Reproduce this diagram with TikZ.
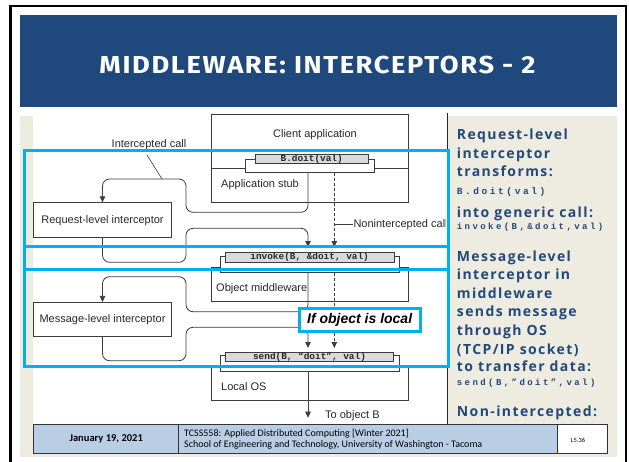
\documentclass[tikz,border=0pt]{standalone}
\usepackage{fontspec}
\usepackage{graphicx}
\usetikzlibrary{arrows.meta}
\setmainfont{Liberation Sans}
\newfontfamily\codefont{Liberation Mono}
\newfontfamily\titlefam{Fira Sans}[LetterSpace=6]
\newfontfamily\panelfam{Open Sans}[LetterSpace=10]
\newfontfamily\panelcodefam{Liberation Mono}[LetterSpace=27]
\newfontfamily\footfam{Carlito}
\definecolor{titleblue}{RGB}{31,73,125}
\definecolor{panelbg}{RGB}{238,236,225}
\definecolor{hlcyan}{RGB}{0,176,240}
\definecolor{footblue}{RGB}{185,205,229}
\definecolor{diagline}{RGB}{60,60,60}
\definecolor{diagtext}{RGB}{40,40,40}
\definecolor{plategray}{RGB}{218,218,218}
\definecolor{paneltext}{RGB}{35,72,122}
\tikzset{
  boxs/.style={draw=diagline, line width=0.8pt, fill=white, inner sep=0pt},
  plate/.style={draw=diagline, line width=0.8pt, fill=white, inner sep=0pt},
  platetop/.style={draw=diagline, line width=0.8pt, fill=plategray, inner sep=0pt,
     font=\codefont\bfseries\fontsize{9.4}{10}\selectfont, text=diagtext},
  lbl/.style={inner sep=0pt, font=\fontsize{11}{13}\selectfont, text=diagtext},
  wire/.style={draw=diagline, line width=0.8pt, rounded corners=7pt},
  arr/.style={-{Triangle[length=6pt,width=5.5pt]}},
  hl/.style={draw=hlcyan, line width=3pt},
  ptxt/.style={anchor=base west, inner sep=0pt, text=paneltext,
     font=\panelfam\bfseries\fontsize{14}{16}\selectfont},
  pcode/.style={anchor=base west, inner sep=0pt, text=paneltext,
     font=\panelcodefam\bfseries\fontsize{9.5}{11}\selectfont},
  foot/.style={draw=black!80, line width=0.8pt, inner sep=0pt, anchor=north west},
}
\begin{document}
\begin{tikzpicture}[x=1pt,y=-1pt]
\useasboundingbox (0,0) rectangle (629,461);
\fill[white] (0,0) rectangle (629,461);
% frame
\draw[line width=2.5pt, black] (10.5,475) -- (10.5,6.2) -- (625.8,6.2) -- (625.8,475);
% title bar
\fill[titleblue] (20,15) rectangle (617.3,106.7);
\node[inner sep=0pt, text=white] (title) at (317.5,65.4)
  {\resizebox{436pt}{17.4pt}{\titlefam\bfseries MIDDLEWARE: INTERCEPTORS - 2}};
% content background
\fill[panelbg] (20,116) rectangle (617.3,457.3);
\fill[white] (33.3,113) rectangle (447.3,424.3);

% ---------- diagram ----------
\node[boxs, minimum width=197pt, minimum height=88pt] (client) at (309.5,158) {};
\draw[diagline, line width=0.8pt] (211,168.3) -- (408,168.3);
\node[lbl] (clientlbl) at (315,135) {Client application};
\node[lbl, anchor=west] (stublbl) at (221,184.3) {Application stub};

\node[boxs, minimum width=197pt, minimum height=34pt] (objmw) at (309.5,284.7) {};
\node[lbl, anchor=west] (objlbl) at (216,288.3) {Object middleware};

\node[boxs, minimum width=197pt, minimum height=33.3pt] (los) at (309.5,383.35) {};
\node[lbl, anchor=west] (loslbl) at (221,386.7) {Local OS};

% plates
\node[plate, minimum width=128.3pt, minimum height=13.4pt] (stubbase) at (309.85,166) {};
\node[platetop, minimum width=113.3pt, minimum height=9pt] (stub) at (311.7,158.8) {B.doit(val)};
\node[plate, minimum width=178.3pt, minimum height=16pt] (invbase) at (309.85,264.7) {};
\node[platetop, minimum width=169.3pt, minimum height=9.6pt] (inv) at (309.65,257.5) {invoke(B, \&doit, val)};
\node[plate, minimum width=178.3pt, minimum height=16pt] (sendbase) at (309.85,363) {};
\node[platetop, minimum width=167.6pt, minimum height=8.7pt] (send) at (309.5,356.65) {send(B, “doit”, val)};

% interceptors
\node[boxs, minimum width=138.4pt, minimum height=35pt, font=\fontsize{11}{13}\selectfont, text=diagtext]
  (req) at (102.5,220.2) {Request-level interceptor};
\node[boxs, minimum width=138.4pt, minimum height=34.4pt, font=\fontsize{11}{13}\selectfont, text=diagtext]
  (msg) at (102.5,319.5) {Message-level interceptor};

% connector end points
\coordinate (stubA) at (308,172.7);
\coordinate (stubB) at (334.3,172.7);
\coordinate (invA) at (308,247);
\coordinate (invB) at (334.3,247);
\coordinate (invoA) at (308,272.7);
\coordinate (invoB) at (334.3,272.7);
\coordinate (sendA) at (308,348);
\coordinate (sendB) at (334.3,348);
\coordinate (sendoA) at (308,371);
\coordinate (objB) at (308,417.7);

\draw[wire,arr] (stubA) -- (308,212.3) -- (186,212.3) -- (186,179) -- (req.north |- 0,179) -- (req.north);
\draw[wire,arr] (req.south) -- (req.south |- 0,262.3) -- (186,262.3) -- (186,228.3) -- (308,228.3) -- (invA);
\draw[diagline, line width=0.8pt, dash pattern=on 3pt off 2pt, arr] (stubB) -- (invB);
\coordinate (ncl) at (334.3,224.3);
\begin{scope}
\clip (300,200) rectangle (445,240);
\node[lbl, anchor=west] (nclbl) at (353.3,224.3) {Nonintercepted call};
\end{scope}
\draw[diagline, line width=0.8pt] (ncl) -- (nclbl.west);

\draw[wire,arr] (invoA) -- (308,311.7) -- (186,311.7) -- (186,276.7) -- (msg.north |- 0,276.7) -- (msg.north);
\draw[wire,arr] (msg.south) -- (msg.south |- 0,360.7) -- (186,360.7) -- (186,327.3) -- (308,327.3) -- (sendA);
\draw[diagline, line width=0.8pt, dash pattern=on 3pt off 2pt, arr] (invoB) -- (sendB);
\draw[diagline, line width=0.8pt, arr] (sendoA) -- (objB);
\node[lbl, anchor=west] (toB) at (325,416) {To object B};

\node[lbl] (icl) at (149,145) {Intercepted call};
\coordinate (iclend) at (162,179);
\draw[diagline, line width=0.6pt] (147,155) -- (iclend);

\draw[black!85, line width=1pt] (447.3,113) -- (447.3,424.3);

% ---------- right panel ----------
\node[ptxt] (p1) at (456.7,139.3) {Request-level};
\node[ptxt] (p2) at (456.7,158.3) {interceptor};
\node[ptxt] (p3) at (456.7,176.7) {transforms:};
\node[pcode] (p4) at (456.7,194.3) {B.doit(val)};
\node[ptxt] (p5) at (456.7,217.3) {into generic call:};
\node[pcode, font=\panelcodefam\bfseries\fontsize{9}{11}\selectfont] (p6) at (456.7,229.3) {invoke(B,\&doit,val)};
\node[ptxt] (p7) at (456.7,261.7) {Message-level};
\node[ptxt] (p8) at (456.7,279.3) {interceptor in};
\node[ptxt] (p9) at (456.7,298.3) {middleware};
\node[ptxt] (p10) at (456.7,316.7) {sends message};
\node[ptxt] (p11) at (456.7,335) {through OS};
\node[ptxt] (p12) at (456.7,354.3) {(TCP/IP socket)};
\node[ptxt] (p13) at (456.7,371.7) {to transfer data:};
\node[pcode, font=\panelcodefam\bfseries\fontsize{9}{11}\selectfont] (p14) at (456.7,385) {send(B,”doit”,val)};
\node[ptxt] (p15) at (456.7,416.7) {Non-intercepted:};

% ---------- highlights ----------
\draw[hl] (24,150.7) rectangle (448.3,246.7);
\draw[hl] (24,246.7) rectangle (448.3,269.3);
\draw[hl] (24,269.3) rectangle (448.3,366);
\node[draw=hlcyan, line width=3pt, fill=white, minimum width=120.7pt, minimum height=22.7pt, inner sep=0pt,
  font=\bfseries\itshape\fontsize{14}{16}\selectfont] (local) at (359.65,319.65) {If object is local};

% ---------- footer ----------
\node[foot, fill=footblue, minimum width=145pt, minimum height=28.6pt] (fdate) at (33.3,424.3) {};
\node[font=\footfam\bfseries\fontsize{10.5}{12}\selectfont, inner sep=0pt] (fdatet) at (fdate.center) {January 19, 2021};
\node[foot, fill=footblue, minimum width=379pt, minimum height=28.6pt] (fcourse) at (178.3,424.3) {};
\node[font=\footfam\fontsize{10}{10.5}\selectfont, inner sep=0pt, anchor=west, align=left] (fcourset) at (184,439)
  {TCSS558: Applied Distributed Computing [Winter 2021]\\School of Engineering and Technology, University of Washington - Tacoma};
\node[foot, fill=white, minimum width=49.4pt, minimum height=28.6pt] (fpage) at (557.3,424.3) {};
\node[font=\footfam\fontsize{6.5}{8}\selectfont, inner sep=0pt] (fpaget) at (578,440) {L5.36};
\end{tikzpicture}
\end{document}
